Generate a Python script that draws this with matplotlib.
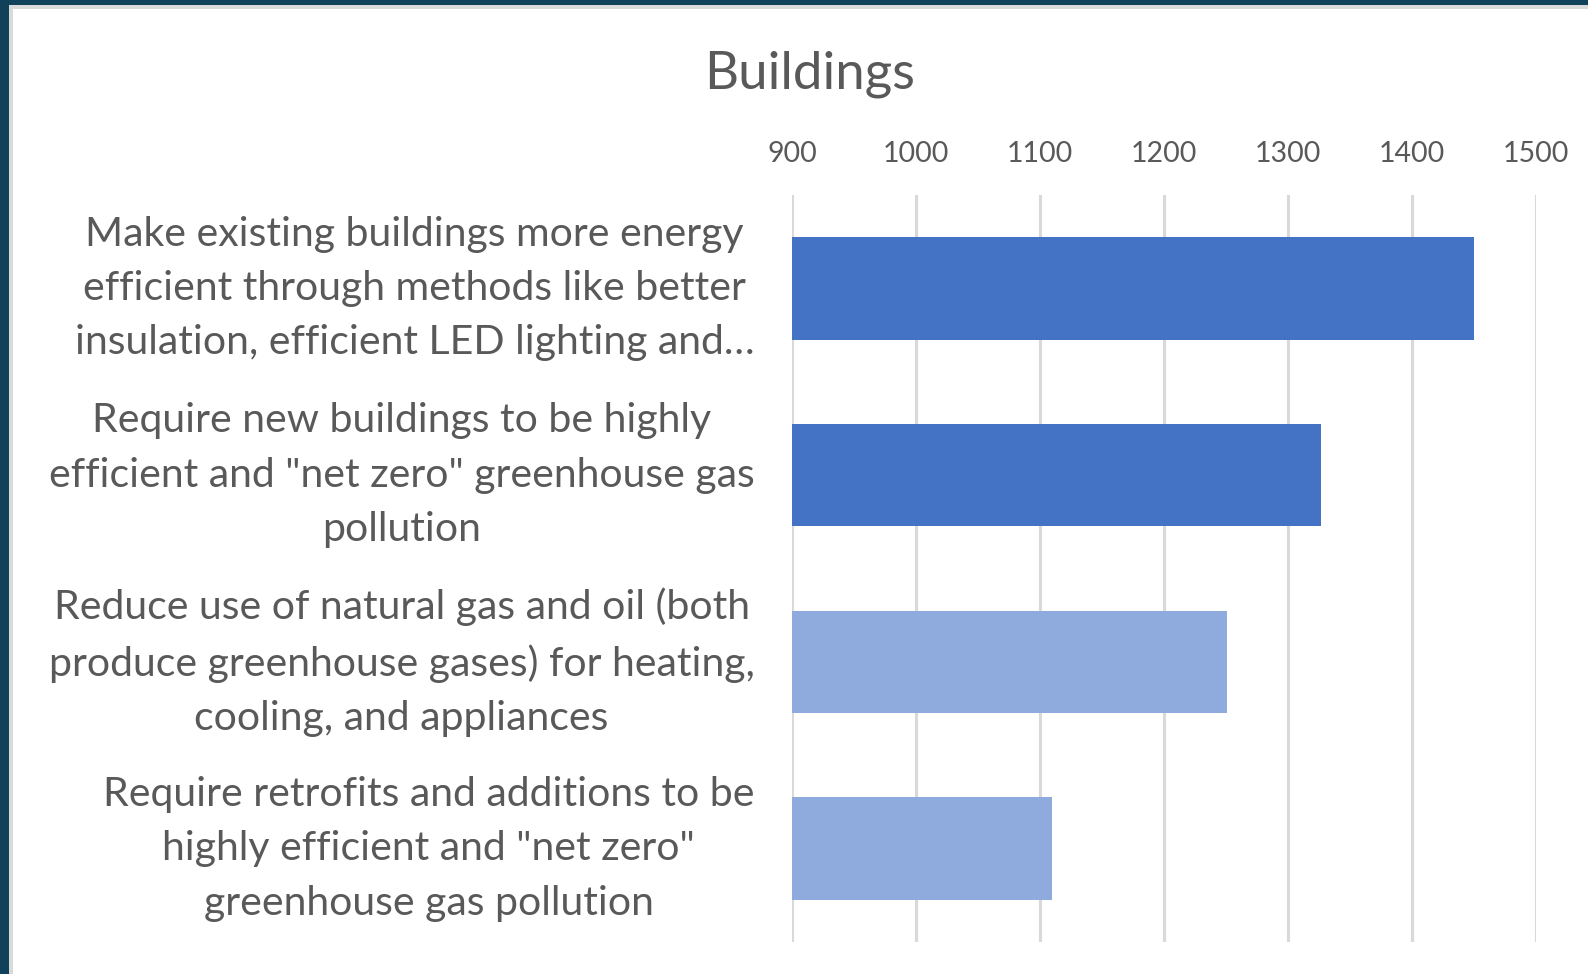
import matplotlib
matplotlib.use("Agg")
import matplotlib.pyplot as plt
import matplotlib.transforms as mtransforms
from matplotlib.patches import Rectangle

plt.rcParams['font.family'] = ['Lato', 'DejaVu Sans']

# data (top to bottom)
labels = [
    'Make existing buildings more energy\nefficient through methods like better\ninsulation, efficient LED lighting and\u2026',
    'Require new buildings to be highly\nefficient and "net zero" greenhouse gas\npollution',
    'Reduce use of natural gas and oil (both\nproduce greenhouse gases) for heating,\ncooling, and appliances',
    'Require retrofits and additions to be\nhighly efficient and "net zero"\ngreenhouse gas pollution',
]
values = [1450, 1327, 1251, 1110]
colors = ['#4472C4', '#4472C4', '#8FAADC', '#8FAADC']
xticks = [900, 1000, 1100, 1200, 1300, 1400, 1500]

text_col = '#595959'

fig = plt.figure(figsize=(15.88, 9.74), dpi=100)
fig.patch.set_facecolor('white')

# frame left/top like the slide border
fig.patches.append(Rectangle((0, 0), 13 / 1588, 1, transform=fig.transFigure,
                             facecolor='#d9d9d9', edgecolor='none', zorder=0))
fig.patches.append(Rectangle((0, 1 - 9 / 974), 1, 9 / 974, transform=fig.transFigure,
                             facecolor='#d9d9d9', edgecolor='none', zorder=0))
fig.patches.append(Rectangle((0, 0), 9 / 1588, 1, transform=fig.transFigure,
                             facecolor='#10405a', edgecolor='none', zorder=1))
fig.patches.append(Rectangle((0, 1 - 5 / 974), 1, 5 / 974, transform=fig.transFigure,
                             facecolor='#10405a', edgecolor='none', zorder=1))

ax = fig.add_axes([792 / 1588, 1 - 942 / 974, (1536 - 792) / 1588, (942 - 195) / 974])

ypos = list(range(len(values)))
ax.barh(ypos, [v - 900 for v in values], left=900, height=0.55, color=colors, zorder=2)

ax.set_xlim(900, 1500)
ax.set_ylim(len(values) - 0.5, -0.5)
ax.set_xticks(xticks)
ax.xaxis.tick_top()
ax.tick_params(axis='x', length=0, pad=20, labelsize=20.5, labelcolor=text_col)
ax.set_yticks(ypos)
ax.set_yticklabels(labels)
ax.tick_params(axis='y', length=0, pad=27, labelsize=29.5, labelcolor=text_col)
# labels sit a little above the bar centres in the original
shift = mtransforms.ScaledTranslation(0, 0.12, fig.dpi_scale_trans)
for lbl in ax.get_yticklabels():
    lbl.set_multialignment('center')
    lbl.set_linespacing(1.58)
    lbl.set_transform(lbl.get_transform() + shift)

ax.grid(axis='x', color='#d9d9d9', linewidth=2.2, zorder=0)
ax.set_axisbelow(True)
for s in ax.spines.values():
    s.set_visible(False)

fig.text(810 / 1588, 1 - 74 / 974, 'Buildings', ha='center', va='center',
         fontsize=38, color=text_col)

fig.savefig('out.png', dpi=100, facecolor='white')
